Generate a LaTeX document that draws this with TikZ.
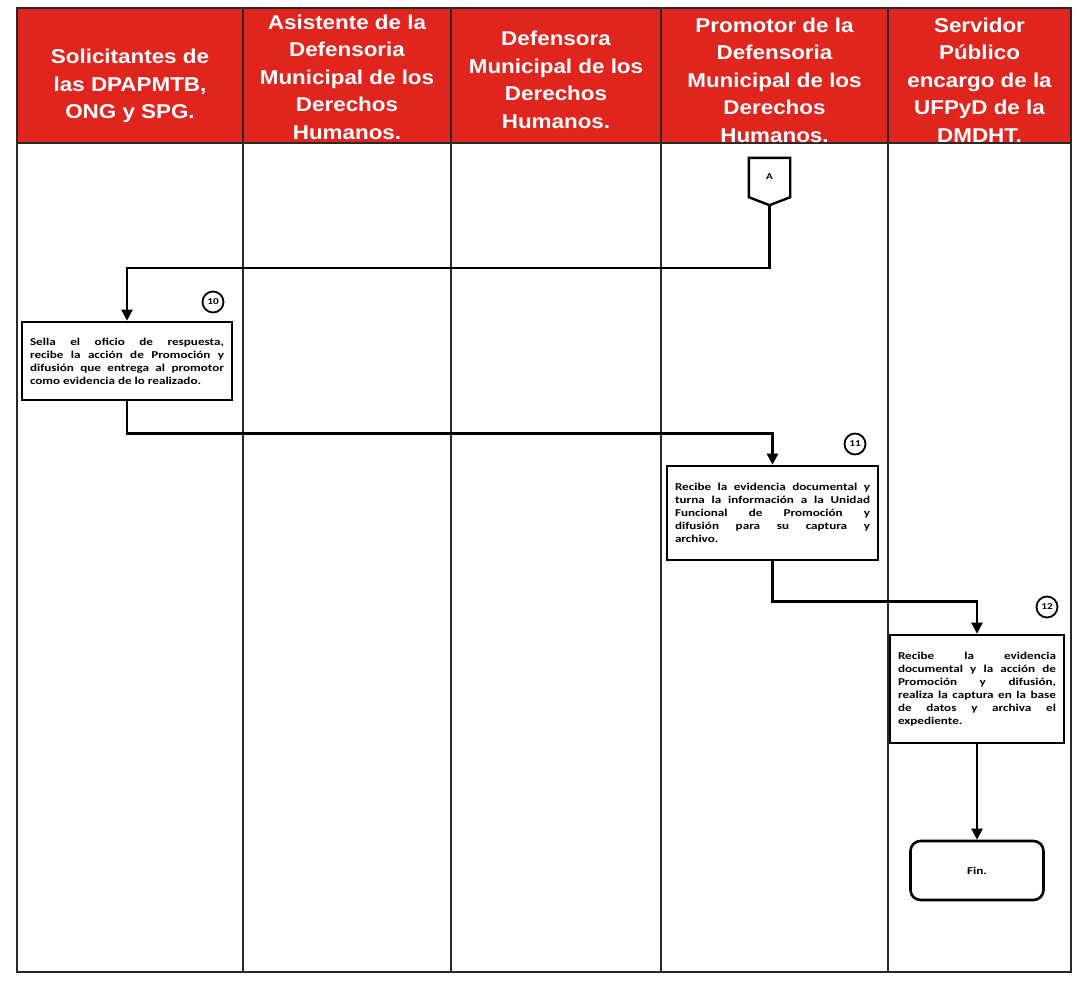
\documentclass[tikz,border=0pt]{standalone}
\usepackage{fontspec}
\setmainfont{Liberation Sans}
\newfontfamily\headfont{Liberation Sans}[FakeStretch=1.12]
\newfontfamily\boxfont{Carlito}[FakeStretch=1.25]
\usetikzlibrary{arrows.meta}
\definecolor{lanered}{RGB}{224,36,30}
\definecolor{rule}{RGB}{45,40,38}
\begin{document}
\begin{tikzpicture}[x=1pt,y=-1pt,
  lanehead/.style={text=white, font=\headfont\fontsize{20}{27.5}\selectfont\bfseries, align=center, inner sep=0pt},
  procbox/.style={draw=black, line width=2.6pt, fill=white, align=justify,
    font=\boxfont\fontsize{10.5}{13}\selectfont\bfseries, inner xsep=8pt, inner ysep=4pt},
  termbox/.style={draw=black, line width=2.6pt, rounded corners=10pt, fill=white,
    minimum width=133pt, minimum height=59pt, font=\boxfont\fontsize{10.5}{13}\selectfont\bfseries},
  stepnum/.style={draw=black, circle, line width=1.8pt, minimum size=21pt, inner sep=0pt,
    font=\boxfont\fontsize{9}{10}\selectfont\bfseries},
  flow/.style={draw=black, line width=2.4pt, -{Triangle[length=11pt,width=11pt]}},
  lane/.style={draw=rule, line width=1.6pt}]
\useasboundingbox (0,0) rectangle (1074,988);

% header band and swimlane frame
\fill[lanered] (17,8) rectangle (1071,143);
\draw[lane] (17,8) rectangle (1071,972);
\draw[lane] (17,143) -- (1071,143);
\foreach \lx in {243,451,661,888}
  \draw[lane] (\lx,8) -- (\lx,972);

% lane titles
\node[lanehead] (h1) at (130,86) {Solicitantes de\\las DPAPMTB,\\ONG y SPG.};
\node[lanehead] (h2) at (347,77) {Asistente de la\\Defensoria\\Municipal de los\\Derechos\\Humanos.};
\node[lanehead] (h3) at (556,80) {Defensora\\Municipal de los\\Derechos\\Humanos.};
\node[lanehead] (h4) at (774.5,80) {Promotor de la\\Defensoria\\Municipal de los\\Derechos\\Humanos.};
\node[lanehead] (h5) at (979.5,80) {Servidor\\P\'ublico\\encargo de la\\UFPyD de la\\DMDHT.};

% off-page connector A
\node[inner sep=0pt, minimum width=41pt, minimum height=47pt] (A) at (769.5,181.5) {};
\draw[line width=2.4pt, line join=miter] (A.north west) -- (A.north east) -- ([yshift=8pt]A.south east)
  -- (A.south) -- ([yshift=8pt]A.south west) -- cycle;
\node[font=\boxfont\fontsize{9}{10}\selectfont\bfseries, inner sep=0pt] (Atxt) at (769.5,177) {A};

% process steps
\node[procbox, text width=194pt, minimum height=78pt] (b10) at (127,361)
  {Sella el oficio de respuesta,\linebreak recibe la acci\'on de Promoci\'on y\linebreak
   difusi\'on que entrega al promotor\linebreak como evidencia de lo realizado.};
\node[stepnum] (n10) at (213,302) {10};

\node[procbox, text width=195pt, minimum height=94pt] (b11) at (772.5,513)
  {Recibe la evidencia documental y\linebreak turna la informaci\'on a la Unidad\linebreak
   Funcional de Promoci\'on y\linebreak difusi\'on para su captura y\linebreak archivo.};
\node[stepnum] (n11) at (855,444) {11};

\node[procbox, text width=158pt, minimum height=108pt] (b12) at (977,689)
  {Recibe la evidencia\linebreak documental y la acci\'on de\linebreak Promoci\'on y difusi\'on,\linebreak
   realiza la captura en la base\linebreak de datos y archiva el\linebreak expediente.};
\node[stepnum] (n12) at (1047,607) {12};

\node[termbox] (fin) at (977,870.5) {Fin.};

% connectors
\draw[flow] (A.south) -- ++(0,63) -| (b10.north);
\draw[flow] (b10.south) -- ++(0,32) -| (b11.north);
\draw[flow] (b11.south) -- ++(0,40) -| (b12.north);
\draw[flow] (b12.south) -- (fin.north);
\end{tikzpicture}
\end{document}
